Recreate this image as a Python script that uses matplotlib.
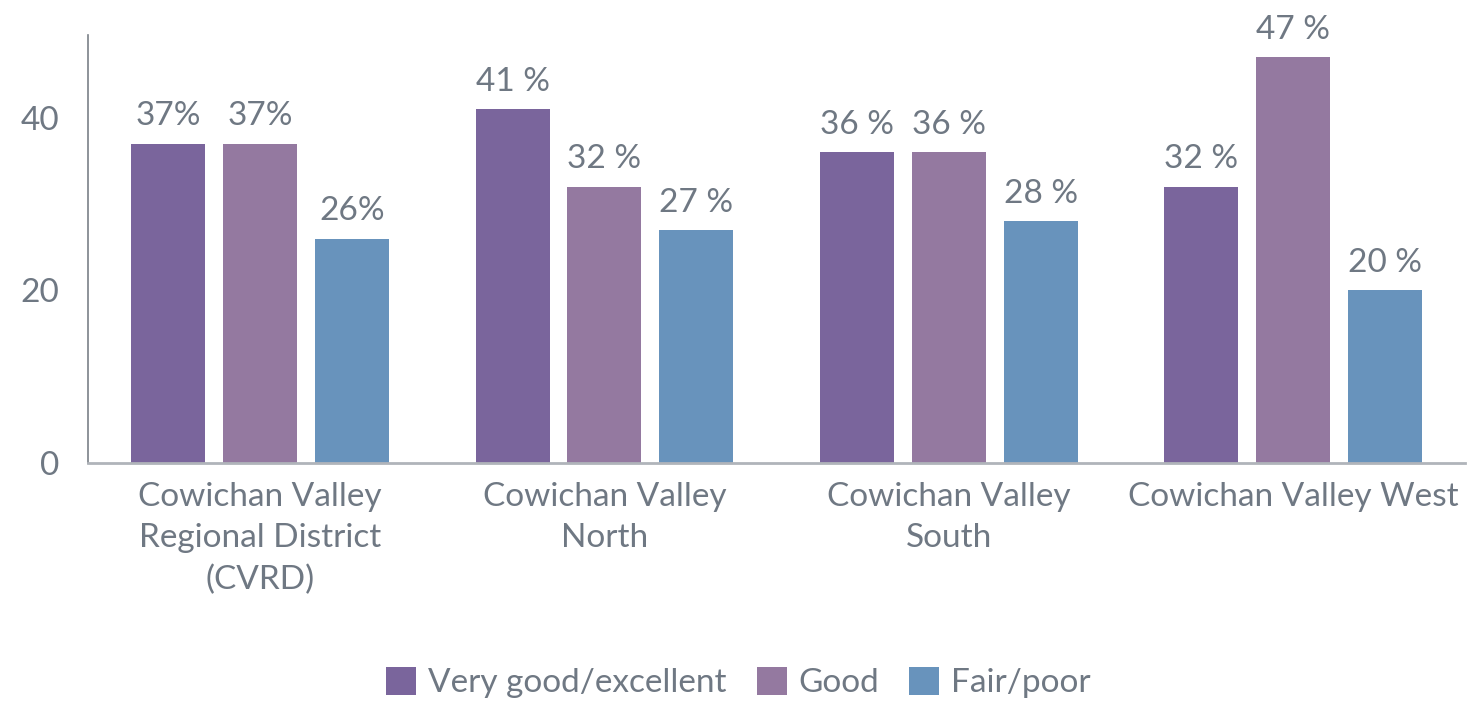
import matplotlib.pyplot as plt
import numpy as np

plt.rcParams['font.family'] = ['Lato', 'DejaVu Sans']

regions = ['Cowichan Valley\nRegional District\n(CVRD)', 'Cowichan Valley\nNorth',
           'Cowichan Valley\nSouth', 'Cowichan Valley West']
series = ['Very good/excellent', 'Good', 'Fair/poor']
very_good = [37, 41, 36, 32]
good = [37, 32, 36, 47]
fair_poor = [26, 27, 28, 20]
labels_vg = ['37%', '41 %', '36 %', '32 %']
labels_good = ['37%', '32 %', '36 %', '47 %']
labels_fp = ['26%', '27 %', '28 %', '20 %']

colors = ['#7a659c', '#9479a0', '#6893bc']
txt = '#6f7883'
fs = 24

fig = plt.figure(figsize=(14.68, 7.01), dpi=100)
ax = fig.add_axes([0.06, 0.3395, 0.938, 0.6105])

x = np.arange(len(regions))
w = 0.215
off = 0.267
for i, (vals, labs) in enumerate(zip([very_good, good, fair_poor], [labels_vg, labels_good, labels_fp])):
    bars = ax.bar(x + (i - 1) * off, vals, w, color=colors[i], label=series[i])
    ax.bar_label(bars, labels=labs, padding=9, fontsize=fs, color=txt)

ax.set_xlim(-0.5, 3.5)
ax.set_ylim(0, 49.6)
ax.set_yticks([0, 20, 40])
ax.set_xticks(x)
ax.set_xticklabels(regions, fontsize=fs, color=txt, linespacing=1.45)
ax.tick_params(axis='y', labelsize=fs, labelcolor=txt, length=0, pad=21)
ax.tick_params(axis='x', length=0, pad=14)
for s in ['top', 'right']:
    ax.spines[s].set_visible(False)
ax.spines['left'].set_color('#7a8088')
ax.spines['bottom'].set_color('#b0b4ba')
ax.spines['bottom'].set_linewidth(2)
ax.spines['left'].set_linewidth(1.2)

fig.legend(loc='center', bbox_to_anchor=(0.503, 0.026), ncol=3, frameon=False,
           fontsize=fs, labelcolor=txt, handlelength=0.9, handleheight=0.9,
           handletextpad=0.35, columnspacing=0.9)

fig.savefig('out.png', dpi=100)
